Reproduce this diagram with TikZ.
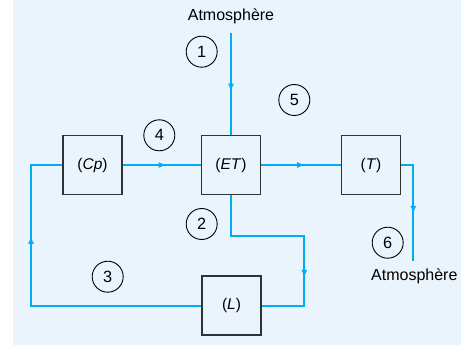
\documentclass[tikz,border=0pt]{standalone}
\usepackage{fontspec}
\setmainfont{Liberation Sans}
\usetikzlibrary{arrows.meta,decorations.markings}
\definecolor{bgblue}{RGB}{234,244,252}
\definecolor{flowblue}{RGB}{0,174,239}
\definecolor{boxgray}{RGB}{50,50,50}
\tikzset{
  box/.style={draw=boxgray,line width=1.4pt,fill=bgblue,minimum width=59pt,minimum height=59pt,inner sep=0pt,font=\fontsize{15.5}{18}\selectfont},
  num/.style={draw=black,line width=0.9pt,circle,minimum size=31pt,inner sep=0pt,font=\fontsize{16.3}{18}\selectfont},
  lbl/.style={font=\fontsize{16}{18}\selectfont,inner sep=0pt},
  flow/.style={draw=flowblue,line width=2pt},
  tipat/.style={postaction={decorate},decoration={markings,mark=at position #1 with {\arrow[flowblue]{Latex[length=8pt,width=6pt]}}}}
}
\begin{document}
\begin{tikzpicture}[x=1pt,y=-1pt]
\useasboundingbox (0,0) rectangle (461,346);
\fill[bgblue] (13,0) rectangle (461,345);
% boxes
\node[box] (Cp) at (92.5,165) {(\textit{Cp})};
\node[box] (ET) at (231,165) {(\textit{ET})};
\node[box] (T) at (371,165) {(\textit{T})};
\node[box] (L) at (231.5,305.5) {(\textit{L})};
% labels
\node[lbl] (atm1) at (231,16) {Atmosphère};
\node[lbl] (atm2) at (414.3,276) {Atmosphère};
\coordinate (in1) at (231,32.7);
\coordinate (out6) at (413.3,261);
% numbers
\node[num] (n1) at (201.7,51.7) {1};
\node[num] (n5) at (294.3,100) {5};
\node[num] (n4) at (159.3,135.3) {4};
\node[num] (n2) at (201.7,224) {2};
\node[num] (n3) at (107.7,276.7) {3};
\node[num] (n6) at (387.7,242.7) {6};
% flows
\draw[flow,tipat=59pt] (in1) -- (ET.north);
\draw[flow,tipat=44pt] (Cp.east) -- (ET.west);
\draw[flow,tipat=44pt] (ET.east) -- (T.west);
\draw[flow,tipat=61pt] (T.east) -| (out6);
\draw[flow,tipat=156pt] (ET.south) |- (304.3,236) |- (L.east);
\draw[flow,tipat=240pt] (L.west) -| (31,236) |- (Cp.west);
\end{tikzpicture}
\end{document}
